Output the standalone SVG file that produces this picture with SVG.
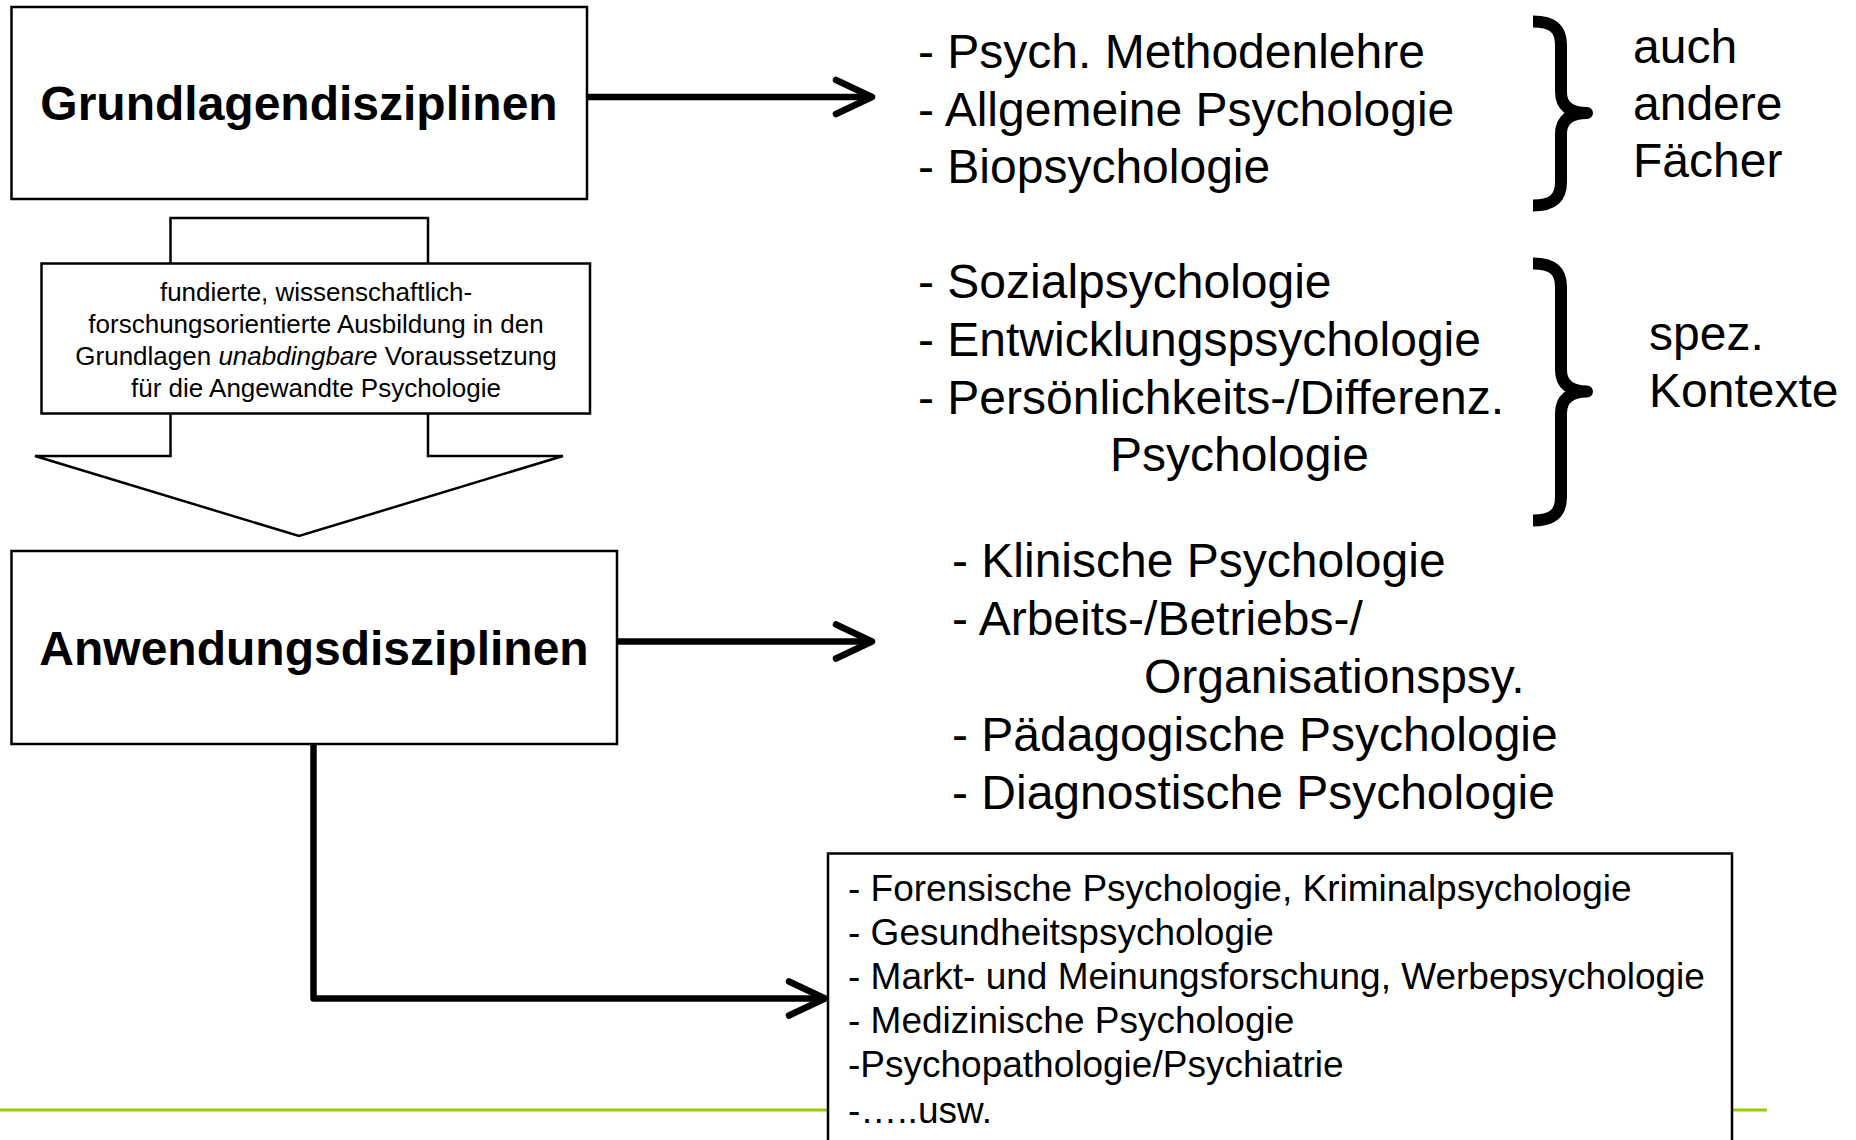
<svg xmlns="http://www.w3.org/2000/svg" width="1856" height="1140" viewBox="0 0 1856 1140">
<style>
.box{fill:#fff;stroke:#000;stroke-width:2.5}
.conn{fill:none;stroke:#000;stroke-width:6.5;stroke-linejoin:round}
.brace{fill:none;stroke:#000;stroke-width:12;stroke-linejoin:round}
text{font-family:"Liberation Sans",Arial,sans-serif;fill:#000}
.title{font-size:48px;font-weight:bold;text-anchor:middle}
.big{font-size:48px}
.mid{font-size:26px;text-anchor:middle}
.small{font-size:37px}
</style>
<defs>
<marker id="chev" markerUnits="userSpaceOnUse" viewBox="-45 -25 55 50" refX="0" refY="0" markerWidth="55" markerHeight="50" orient="auto" overflow="visible">
<path d="M-36,-17 L0,0 L-36,17" fill="none" stroke="#000" stroke-width="6.5" stroke-linecap="round" stroke-linejoin="round"/>
</marker>
</defs>
<rect x="0" y="0" width="1856" height="1140" fill="#fff"/>
<line x1="0" y1="1110" x2="1767" y2="1110" stroke="#99cc00" stroke-width="3"/>
<g id="connectors">
<line class="conn" x1="587" y1="97" x2="872" y2="97" marker-end="url(#chev)"/>
<line class="conn" x1="617" y1="641.5" x2="872" y2="641.5" marker-end="url(#chev)"/>
<polyline class="conn" points="313.5,744 313.5,998.5 825,998.5" marker-end="url(#chev)"/>
</g>
<g id="node-grundlagen">
<rect class="box" x="11.5" y="7" width="575.5" height="192"/>
<text class="title" x="299" y="119.5">Grundlagendisziplinen</text>
</g>
<g id="node-blockarrow">
<path class="box" d="M170.5,218 L428,218 L428,456 L563,456 L299,536 L35,456 L170.5,456 Z"/>
<rect class="box" x="41.5" y="263.5" width="548.5" height="150"/>
<text class="mid" x="316" y="301">fundierte, wissenschaftlich-</text>
<text class="mid" x="316" y="333">forschungsorientierte Ausbildung in den</text>
<text class="mid" x="316" y="365">Grundlagen <tspan font-style="italic">unabdingbare</tspan> Voraussetzung</text>
<text class="mid" x="316" y="397">für die Angewandte Psychologie</text>
</g>
<g id="node-anwendung">
<rect class="box" x="11.5" y="551" width="605.5" height="193"/>
<text class="title" x="314" y="664.5">Anwendungsdisziplinen</text>
</g>
<g id="list-grundlagen">
<text class="big" x="918" y="68">- Psych. Methodenlehre</text>
<text class="big" x="918" y="125.5">- Allgemeine Psychologie</text>
<text class="big" x="918" y="183">- Biopsychologie</text>
</g>
<g id="brace-1">
<path class="brace" d="M1533,21.5 C1552,21.5 1561,28 1561,45 L1561,92 C1561,106 1570,113 1587,113 C1570,113 1561,120 1561,134 L1561,182 C1561,199 1552,205.5 1533,205.5"/>
<text class="big" x="1633" y="63">auch</text>
<text class="big" x="1633" y="120">andere</text>
<text class="big" x="1633" y="177">Fächer</text>
</g>
<g id="list-kontext">
<text class="big" x="918" y="298">- Sozialpsychologie</text>
<text class="big" x="918" y="356">- Entwicklungspsychologie</text>
<text class="big" x="918" y="414">- Persönlichkeits-/Differenz.</text>
<text class="big" x="1110" y="471">Psychologie</text>
</g>
<g id="brace-2">
<path class="brace" d="M1533,263.5 C1552,263.5 1561,270 1561,287 L1561,370 C1561,384 1570,391.5 1587,391.5 C1570,391.5 1561,399 1561,413 L1561,497 C1561,514 1552,520.5 1533,520.5"/>
<text class="big" x="1649" y="350">spez.</text>
<text class="big" x="1649" y="407">Kontexte</text>
</g>
<g id="list-anwendung">
<text class="big" x="952" y="577">- Klinische Psychologie</text>
<text class="big" x="952" y="635">- Arbeits-/Betriebs-/</text>
<text class="big" x="1144" y="693">Organisationspsy.</text>
<text class="big" x="952" y="751">- Pädagogische Psychologie</text>
<text class="big" x="952" y="809">- Diagnostische Psychologie</text>
</g>
<g id="node-weitere">
<rect class="box" x="828" y="853.5" width="904" height="300"/>
<text class="small" x="848" y="901">- Forensische Psychologie, Kriminalpsychologie</text>
<text class="small" x="848" y="945">- Gesundheitspsychologie</text>
<text class="small" x="848" y="989">- Markt- und Meinungsforschung, Werbepsychologie</text>
<text class="small" x="848" y="1033">- Medizinische Psychologie</text>
<text class="small" x="848" y="1077">-Psychopathologie/Psychiatrie</text>
<text class="small" x="848" y="1123">-…..usw.</text>
</g>
</svg>
